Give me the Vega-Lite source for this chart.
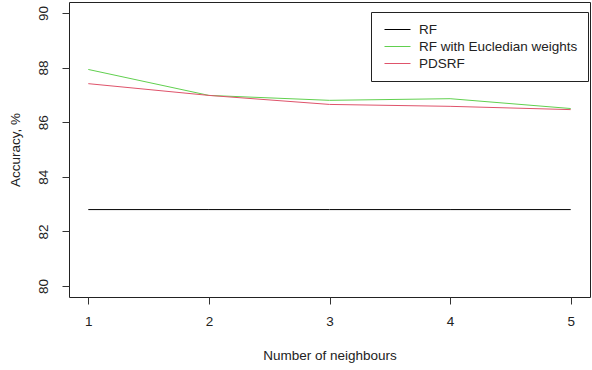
{
  "$schema": "https://vega.github.io/schema/vega-lite/v6.json",
  "autosize": "none",
  "width": 521,
  "height": 295,
  "padding": {"left": 69, "top": 2, "right": 2, "bottom": 73},
  "background": "white",
  "config": {
    "view": {"stroke": "#222", "strokeWidth": 1},
    "font": "Liberation Sans",
    "axis": {
      "domain": false,
      "grid": false,
      "ticks": true,
      "tickSize": 7,
      "tickColor": "#333",
      "labelFont": "Liberation Sans",
      "labelFontSize": 13.5,
      "labelColor": "#222",
      "titleFont": "Liberation Sans",
      "titleFontSize": 13.5,
      "titleFontWeight": "normal",
      "titleColor": "#222"
    }
  },
  "data": {
    "values": [
      {"series": "RF", "k": 1, "acc": 82.8},
      {"series": "RF", "k": 2, "acc": 82.8},
      {"series": "RF", "k": 3, "acc": 82.8},
      {"series": "RF", "k": 4, "acc": 82.8},
      {"series": "RF", "k": 5, "acc": 82.8},
      {"series": "RF with Eucledian weights", "k": 1, "acc": 87.93},
      {"series": "RF with Eucledian weights", "k": 2, "acc": 86.98},
      {"series": "RF with Eucledian weights", "k": 3, "acc": 86.8},
      {"series": "RF with Eucledian weights", "k": 4, "acc": 86.86},
      {"series": "RF with Eucledian weights", "k": 5, "acc": 86.5},
      {"series": "PDSRF", "k": 1, "acc": 87.41},
      {"series": "PDSRF", "k": 2, "acc": 86.98},
      {"series": "PDSRF", "k": 3, "acc": 86.65},
      {"series": "PDSRF", "k": 4, "acc": 86.58},
      {"series": "PDSRF", "k": 5, "acc": 86.46}
    ]
  },
  "mark": {"type": "line", "strokeWidth": 1},
  "encoding": {
    "x": {
      "field": "k",
      "type": "quantitative",
      "scale": {"domain": [0.84, 5.16], "nice": false, "zero": false},
      "axis": {"values": [1, 2, 3, 4, 5], "title": "Number of neighbours", "labelPadding": 10, "titlePadding": 21, "labelFlush": false}
    },
    "y": {
      "field": "acc",
      "type": "quantitative",
      "scale": {"domain": [79.6, 90.4], "nice": false, "zero": false},
      "axis": {"values": [80, 82, 84, 86, 88, 90], "title": "Accuracy, %", "labelAngle": 270, "labelAlign": "center", "labelBaseline": "bottom", "labelPadding": 12, "titlePadding": 14, "labelFlush": false}
    },
    "color": {
      "field": "series",
      "type": "nominal",
      "scale": {"domain": ["RF", "RF with Eucledian weights", "PDSRF"], "range": ["#000000", "#61D04F", "#DF536B"]},
      "legend": {
        "title": null,
        "orient": "none",
        "legendX": 302,
        "legendY": 10,
        "direction": "vertical",
        "symbolType": "M-2,0H2",
        "symbolSize": 169,
        "symbolOffset": 9,
        "symbolStrokeWidth": 1,
        "labelFont": "Liberation Sans",
        "labelFontSize": 13.5,
        "labelColor": "#222",
        "labelOffset": 14.5,
        "rowPadding": 3,
        "padding": 10.5,
        "strokeColor": "#222",
        "fillColor": "white"
      }
    }
  }
}
